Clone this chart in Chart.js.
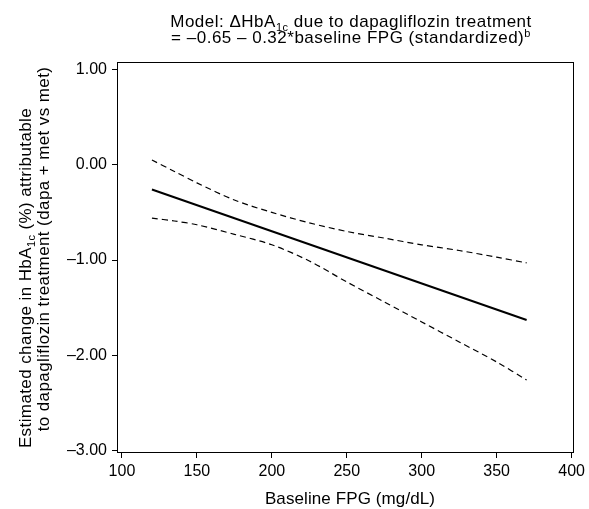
<!DOCTYPE html>
<html lang="en">
<head>
    <meta charset="UTF-8">
    <title>Dapagliflozin effect by baseline FPG</title>
    <style>
        html, body { margin: 0; padding: 0; background: #fff; }
        #wrap { width: 589px; height: 509px; }
    </style>
    <script src="https://cdn.jsdelivr.net/npm/chart.js"></script>
</head>
<body>
    <div id="wrap"><canvas id="fpgChart" width="589" height="509"></canvas></div>

    <script>
        // Fitted line (model estimate) at both ends of the observed FPG range
        const fitFpg = [120, 370];
        const fitChange = [-0.26, -1.63];

        // 95% CI band
        const ciFpg = [120, 135, 150, 175, 200, 225, 250, 275, 300, 325, 350, 370];
        const ciUpper = [0.05, -0.07, -0.19, -0.37, -0.50, -0.61, -0.70, -0.77, -0.84, -0.90, -0.97, -1.03];
        const ciLower = [-0.56, -0.59, -0.63, -0.73, -0.84, -1.01, -1.23, -1.44, -1.65, -1.86, -2.07, -2.26];

        // Axis ticks
        const xTicks = [100, 150, 200, 250, 300, 350, 400];
        const yTicks = [1, 0, -1, -2, -3];

        const FONT = '"Liberation Sans", Arial, Helvetica, sans-serif';

        const toPoints = (xs, ys) => xs.map((x, i) => ({ x: x, y: ys[i] }));

        // draw a line of text with optional sub/superscript pieces, centred on x
        function drawRich(ctx, parts, x, y, size, spacing) {
            const big = size + 'px ' + FONT;
            const small = Math.round(size * 0.62) + 'px ' + FONT;
            ctx.letterSpacing = (spacing || 0) + 'px';
            let w = 0;
            parts.forEach(p => {
                ctx.font = p.sub || p.sup ? small : big;
                w += ctx.measureText(p.t).width;
            });
            let cx = x - w / 2;
            ctx.textAlign = 'left';
            ctx.textBaseline = 'alphabetic';
            parts.forEach(p => {
                ctx.font = p.sub || p.sup ? small : big;
                const dy = p.sub ? 4 : (p.sup ? -6 : 0);
                ctx.fillText(p.t, cx, y + dy);
                cx += ctx.measureText(p.t).width;
            });
            ctx.letterSpacing = '0px';
        }

        const labelsPlugin = {
            id: 'labels',
            afterDraw(chart) {
                const ctx = chart.ctx;
                const a = chart.chartArea;
                ctx.save();

                // frame round the plot
                ctx.strokeStyle = '#000';
                ctx.lineWidth = 1;
                ctx.strokeRect(Math.round(a.left) + 0.5, Math.round(a.top) + 0.5,
                    Math.round(a.right - a.left) - 1, Math.round(a.bottom - a.top) - 1);

                ctx.fillStyle = '#000';
                // title
                drawRich(ctx, [
                    { t: 'Model: \u0394HbA' }, { t: '1c', sub: true },
                    { t: ' due to dapagliflozin treatment' }
                ], 351, 27, 17, 0.5);
                drawRich(ctx, [
                    { t: '= \u20130.65 \u2013 0.32*baseline FPG (standardized)' }, { t: 'b', sup: true }
                ], 351, 42.5, 17, 0.5);

                // x axis title
                drawRich(ctx, [{ t: 'Baseline FPG (mg/dL)' }], 350, 504, 17, 0.1);

                // y axis title, two rotated lines
                ctx.save();
                ctx.translate(25, 278);
                ctx.rotate(-Math.PI / 2);
                drawRich(ctx, [
                    { t: 'Estimated change in HbA' }, { t: '1c', sub: true },
                    { t: ' (%) attributable' }
                ], 0, 6, 17, 0.4);
                ctx.restore();
                ctx.save();
                ctx.translate(43, 249);
                ctx.rotate(-Math.PI / 2);
                drawRich(ctx, [{ t: 'to dapagliflozin treatment (dapa + met vs met)' }], 0, 6, 17, 0.4);
                ctx.restore();

                ctx.restore();
            }
        };

        const ctx = document.getElementById('fpgChart').getContext('2d');
        new Chart(ctx, {
            type: 'scatter',
            data: {
                datasets: [
                    {
                        label: 'Estimate',
                        data: toPoints(fitFpg, fitChange),
                        showLine: true,
                        borderColor: '#000',
                        borderWidth: 2,
                        pointRadius: 0
                    },
                    {
                        label: 'Upper CI',
                        data: toPoints(ciFpg, ciUpper),
                        showLine: true,
                        borderColor: '#000',
                        borderWidth: 1.2,
                        borderDash: [6, 4],
                        tension: 0.3,
                        pointRadius: 0
                    },
                    {
                        label: 'Lower CI',
                        data: toPoints(ciFpg, ciLower),
                        showLine: true,
                        borderColor: '#000',
                        borderWidth: 1.2,
                        borderDash: [6, 4],
                        tension: 0.3,
                        pointRadius: 0
                    }
                ]
            },
            options: {
                responsive: false,
                animation: false,
                layout: { padding: { left: 0, top: 62, right: 12, bottom: 0 } },
                plugins: {
                    legend: { display: false },
                    title: { display: false },
                    tooltip: { enabled: false }
                },
                scales: {
                    x: {
                        type: 'linear',
                        min: 96.69,
                        max: 401.32,
                        afterFit: s => { s.height = 56; },
                        afterBuildTicks: s => { s.ticks = xTicks.map(v => ({ value: v })); },
                        border: { display: false },
                        grid: { drawOnChartArea: false, drawTicks: true, tickLength: 5, color: '#000' },
                        ticks: {
                            color: '#000',
                            padding: 4,
                            maxRotation: 0,
                            font: { family: FONT, size: 16 },
                            callback: v => String(v)
                        }
                    },
                    y: {
                        type: 'linear',
                        min: -3.026,
                        max: 1.079,
                        afterFit: s => { s.width = 117; },
                        afterBuildTicks: s => { s.ticks = yTicks.map(v => ({ value: v })); },
                        border: { display: false },
                        grid: { drawOnChartArea: false, drawTicks: true, tickLength: 5, color: '#000' },
                        ticks: {
                            color: '#000',
                            padding: 5,
                            font: { family: FONT, size: 16 },
                            callback: v => v.toFixed(2).replace('-', '\u2013')
                        }
                    }
                }
            },
            plugins: [labelsPlugin]
        });
    </script>
</body>
</html>
